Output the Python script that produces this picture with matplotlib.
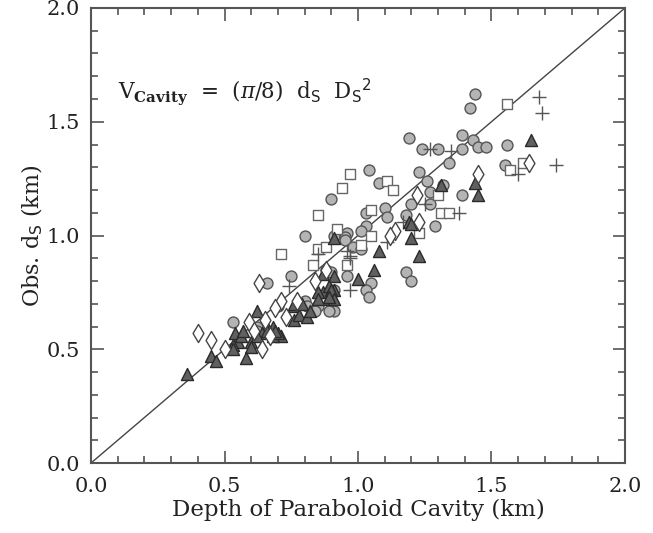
import numpy as np
import matplotlib.pyplot as plt
from matplotlib.ticker import MultipleLocator

plt.rcParams['font.family'] = 'DejaVu Serif'
plt.rcParams['mathtext.fontset'] = 'dejavuserif'

# grey circles
circ_x = [1.44, 1.42, 1.19, 1.24, 1.30, 1.39, 1.39, 1.43, 1.45, 1.48, 1.56, 1.34, 1.23, 1.04, 1.55,
          1.08, 1.26, 1.32, 1.39, 1.27, 0.90, 1.20, 1.27, 1.03, 1.10, 1.11, 1.18, 1.29, 1.03, 1.01,
          0.96, 0.91, 0.80, 0.95, 0.95, 0.98, 1.01, 1.18, 1.20, 0.96, 1.05, 1.03, 1.04, 0.91, 0.89,
          0.88, 0.90, 0.75, 0.66, 0.85, 0.80, 0.81, 0.53, 0.62, 0.62, 0.91, 0.70, 0.84]
circ_y = [1.62, 1.56, 1.43, 1.38, 1.38, 1.44, 1.38, 1.42, 1.39, 1.39, 1.40, 1.32, 1.28, 1.29, 1.31,
          1.23, 1.24, 1.22, 1.18, 1.19, 1.16, 1.14, 1.14, 1.10, 1.12, 1.08, 1.09, 1.04, 1.04, 1.02,
          1.01, 1.00, 1.00, 0.995, 0.98, 0.95, 0.94, 0.84, 0.80, 0.82, 0.79, 0.76, 0.73, 0.67, 0.67,
          0.85, 0.84, 0.82, 0.79, 0.69, 0.71, 0.69, 0.62, 0.60, 0.58, 0.76, 0.69, 0.67]

# open squares
sq_x = [1.56, 1.57, 1.62, 0.97, 0.94, 1.11, 1.13, 1.30, 0.85, 1.31, 1.34, 1.05, 1.23, 1.05, 0.92,
        0.71, 0.85, 0.88, 1.01, 0.83, 0.96]
sq_y = [1.58, 1.29, 1.32, 1.27, 1.21, 1.24, 1.20, 1.18, 1.09, 1.10, 1.10, 1.11, 1.01, 1.00, 1.03,
        0.92, 0.94, 0.95, 0.96, 0.87, 0.87]

# plus signs
plus_x = [1.68, 1.69, 1.27, 1.35, 1.60, 1.74, 1.25, 1.38, 1.17, 1.11, 0.97, 0.97, 0.85, 0.97, 0.74, 0.96]
plus_y = [1.61, 1.54, 1.38, 1.37, 1.27, 1.31, 1.14, 1.10, 1.06, 0.97, 0.91, 0.90, 0.92, 0.76, 0.78, 0.93]

# dark filled triangles
tri_x = [1.65, 1.31, 1.44, 1.45, 1.19, 1.20, 1.20, 0.91, 1.08, 1.23, 1.06, 0.91, 1.00, 0.91, 0.90,
         0.87, 0.87, 0.89, 0.90, 0.91, 0.89, 0.85, 0.77, 0.76, 0.76, 0.78, 0.81, 0.82, 0.68, 0.71,
         0.68, 0.62, 0.66, 0.64, 0.54, 0.55, 0.53, 0.53, 0.60, 0.60, 0.70, 0.45, 0.47, 0.58, 0.36,
         0.56, 0.57, 0.62, 0.69, 0.66, 0.76, 0.79, 0.85]
tri_y = [1.42, 1.22, 1.23, 1.18, 1.06, 1.05, 0.99, 0.99, 0.93, 0.91, 0.85, 0.82, 0.81, 0.76, 0.72,
         0.83, 0.75, 0.78, 0.76, 0.72, 0.73, 0.75, 0.72, 0.69, 0.63, 0.65, 0.64, 0.67, 0.60, 0.56,
         0.56, 0.67, 0.60, 0.57, 0.57, 0.53, 0.52, 0.50, 0.53, 0.51, 0.57, 0.47, 0.45, 0.46, 0.39,
         0.56, 0.58, 0.56, 0.58, 0.58, 0.70, 0.70, 0.72]

# open diamonds
dia_x = [1.64, 1.45, 1.22, 1.23, 1.14, 1.12, 0.63, 0.84, 0.71, 0.69, 0.73, 0.77, 0.65, 0.59, 0.67,
         0.64, 0.40, 0.45, 0.50, 0.88, 0.61]
dia_y = [1.32, 1.27, 1.18, 1.06, 1.02, 1.00, 0.79, 0.80, 0.71, 0.68, 0.64, 0.71, 0.63, 0.62, 0.56,
         0.50, 0.57, 0.54, 0.50, 0.85, 0.58]

fig = plt.figure(figsize=(6.53, 5.33), dpi=100)
ax = fig.add_axes([0.1394, 0.1313, 0.8176, 0.8537])

ax.plot([0, 2], [0, 2], color='#444444', lw=1.0, zorder=1)

ax.scatter(circ_x, circ_y, s=62, marker='o', facecolor='#b4b4b4', edgecolor='#555555', lw=1.0, zorder=3)
ax.scatter(sq_x, sq_y, s=62, marker='s', facecolor='white', edgecolor='#666666', lw=1.0, zorder=3)
ax.scatter(plus_x, plus_y, s=100, marker='+', color='#555555', lw=1.0, zorder=3)
ax.scatter(tri_x, tri_y, s=75, marker='^', facecolor='#606060', edgecolor='#2a2a2a', lw=1.0, zorder=4)
ax.scatter(dia_x, dia_y, s=85, marker='d', facecolor='white', edgecolor='#444444', lw=1.0, zorder=4)

ax.text(0.1, 1.63, r'V$_{\mathsf{\mathbf{Cavity}}}$  =  ($\pi$/8)  d$_{\mathsf{S}}$  D$_{\mathsf{S}}$$^{\mathsf{2}}$',
        fontsize=15.5, color='#222222', va='center')

ax.set_xlim(0, 2)
ax.set_ylim(0, 2)
ax.xaxis.set_major_locator(MultipleLocator(0.5))
ax.yaxis.set_major_locator(MultipleLocator(0.5))
ax.xaxis.set_minor_locator(MultipleLocator(0.1))
ax.yaxis.set_minor_locator(MultipleLocator(0.1))
ax.tick_params(which='both', direction='in', top=True, right=True, color='#555555', width=1.2,
               labelsize=15, labelcolor='#222222')
ax.tick_params(axis='x', which='both', pad=10)
ax.tick_params(axis='y', which='both', pad=8)
ax.tick_params(which='major', length=9)
ax.tick_params(which='minor', length=5)
for sp in ax.spines.values():
    sp.set_color('#555555')
    sp.set_linewidth(1.5)

ax.set_xlabel('Depth of Paraboloid Cavity (km)', fontsize=16.5, color='#222222', labelpad=2)
ax.set_ylabel(r'Obs. d$_{\mathsf{S}}$ (km)', fontsize=16, color='#222222', labelpad=1)

fig.savefig('out.png', dpi=100)
